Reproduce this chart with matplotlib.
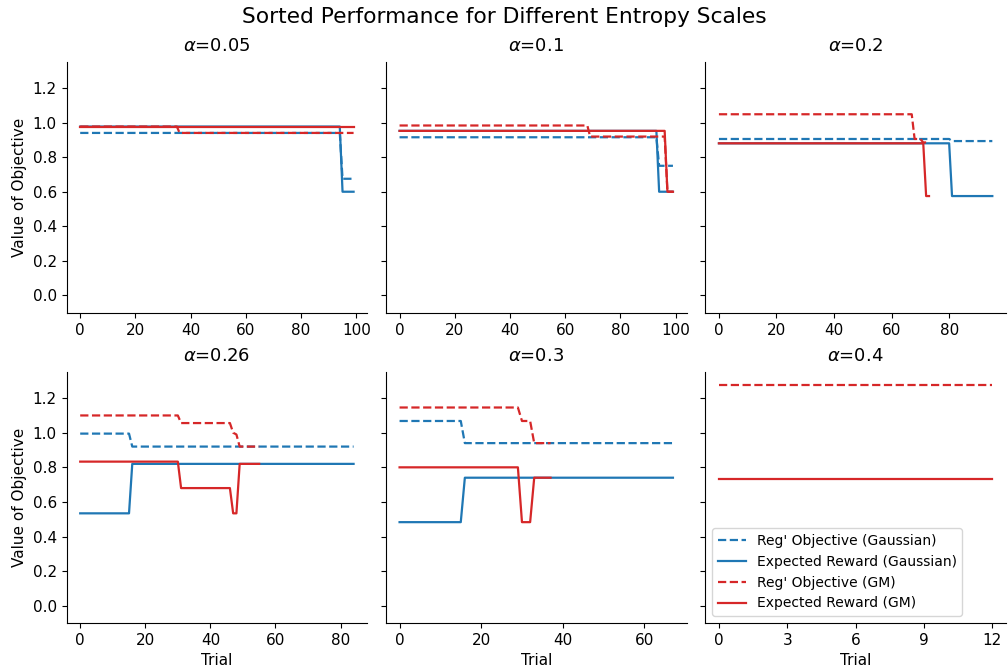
import numpy as np
import matplotlib
matplotlib.use("Agg")
import matplotlib.pyplot as plt

BLUE = "#1f77b4"
RED = "#d62728"

alphas = [0.05, 0.1, 0.2, 0.26, 0.3, 0.4]

# each series is stored as step levels + how many sorted trials sit on each level
# Gaussian policy
reg_g_levels = [[0.94, 0.675], [0.915, 0.75], [0.905, 0.893],
                [0.995, 0.92], [1.068, 0.94], []]
reg_g_counts = [[95, 5], [94, 6], [81, 15], [16, 69], [16, 52], []]
exp_g_levels = [[0.977, 0.60], [0.952, 0.60], [0.88, 0.575],
                [0.534, 0.82], [0.483, 0.74], []]
exp_g_counts = [[95, 5], [94, 6], [81, 15], [16, 69], [16, 52], []]

# Gaussian mixture policy
reg_gm_levels = [[0.977, 0.94], [0.983, 0.919, 0.60], [1.048, 0.905, 0.885],
                 [1.10, 1.056, 1.0, 0.99, 0.92], [1.146, 1.068, 0.94], [1.275]]
reg_gm_counts = [[36, 64], [69, 28, 3], [68, 3, 2],
                 [31, 16, 1, 1, 7], [30, 3, 5], [13]]
exp_gm_levels = [[0.977], [0.952, 0.60], [0.88, 0.575],
                 [0.833, 0.68, 0.534, 0.82], [0.80, 0.483, 0.74], [0.73]]
exp_gm_counts = [[100], [97, 3], [72, 2], [31, 16, 2, 7], [30, 3, 5], [13]]


def expand(levels, counts):
    return np.repeat(levels, counts)


fig, axes = plt.subplots(2, 3, figsize=(10.08, 6.67), dpi=100, sharey=True)
fig.subplots_adjust(left=0.066, right=0.998, bottom=0.066, top=0.907,
                    wspace=0.062, hspace=0.237)
fig.suptitle("Sorted Performance for Different Entropy Scales", fontsize=15.7, y=0.99)

lw = 1.6
for i, ax in enumerate(axes.flat):
    series = [
        (expand(reg_g_levels[i], reg_g_counts[i]), BLUE, "--", "Reg' Objective (Gaussian)"),
        (expand(exp_g_levels[i], exp_g_counts[i]), BLUE, "-", "Expected Reward (Gaussian)"),
        (expand(reg_gm_levels[i], reg_gm_counts[i]), RED, "--", "Reg' Objective (GM)"),
        (expand(exp_gm_levels[i], exp_gm_counts[i]), RED, "-", "Expected Reward (GM)"),
    ]
    for y, c, ls, lab in series:
        ax.plot(np.arange(len(y)), y, color=c, ls=ls, lw=lw, label=lab)
    ax.set_title(r"$\alpha$=%g" % alphas[i], fontsize=13, pad=8)
    ax.spines["top"].set_visible(False)
    ax.spines["right"].set_visible(False)
    ax.tick_params(labelsize=11)
    ax.set_ylim(-0.1, 1.35)
    ax.set_yticks(np.arange(0, 1.21, 0.2))
    if i % 3 == 0:
        ax.set_ylabel("Value of Objective", fontsize=11)
    if i >= 3:
        ax.set_xlabel("Trial", fontsize=11)

axes[1, 2].set_xticks([0, 3, 6, 9, 12])

handles, labels = axes[0, 0].get_legend_handles_labels()
axes[1, 2].legend(handles, labels, loc="lower left", fontsize=10)

fig.savefig("out.png", dpi=100)
